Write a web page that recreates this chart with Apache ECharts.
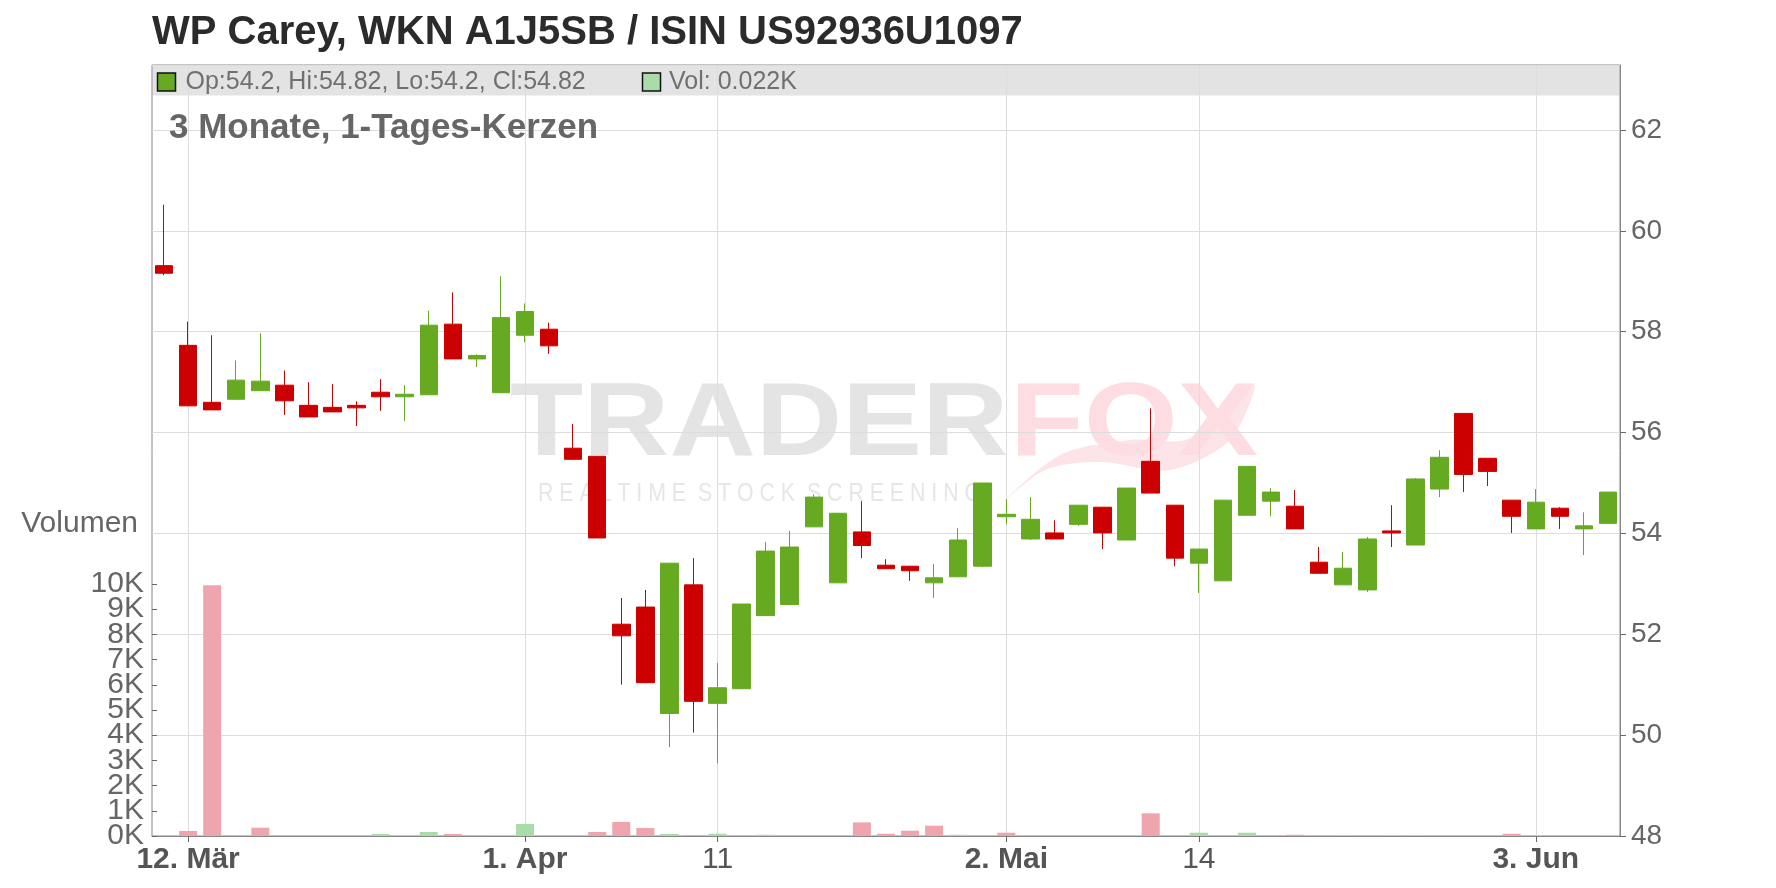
<!DOCTYPE html>
<html><head><meta charset="utf-8">
<script src="https://cdn.jsdelivr.net/npm/echarts@6/dist/echarts.min.js"></script>
<style>html,body{margin:0;padding:0;background:#fff}#c{width:1776px;height:888px}</style>
</head><body><div id="c"></div>
<script>
const FONT = "'Liberation Sans', Arial, sans-serif";

// daily OHLC (61 trading days, 11 Mar .. early Jun)
const openP  = [59.31,57.73,56.60,56.66,56.83,56.94,56.54,56.50,56.54,56.80,
                56.71,56.75,58.15,57.46,56.79,57.93,58.05,55.69,55.53,52.20,
                52.54,50.43,52.98,50.63,50.92,52.37,52.59,54.13,53.02,54.03,
                53.37,53.35,53.02,53.14,53.35,54.33,53.89,54.01,54.18,54.52,
                53.87,55.43,54.56,53.41,53.06,54.36,54.64,54.54,53.43,52.98,
                52.88,54.05,53.77,54.88,56.38,55.49,54.66,54.09,54.50,54.09,
                54.20];
const highP  = [60.52,58.20,57.93,57.43,57.97,57.23,57.00,56.96,56.62,57.06,
                56.94,58.42,58.78,57.55,59.10,58.56,58.18,56.17,55.53,52.72,
                52.88,53.41,53.51,51.43,52.60,53.83,54.05,54.78,54.40,54.64,
                53.49,53.35,53.39,54.11,55.00,54.68,54.72,54.26,54.56,54.52,
                54.90,56.48,54.56,53.69,54.66,55.33,54.90,54.86,53.73,53.63,
                53.93,54.56,55.10,55.65,56.38,55.49,54.66,54.88,54.52,54.42,
                54.82];
const lowP   = [59.12,56.53,56.45,56.66,56.83,56.35,56.31,56.41,56.13,56.43,
                56.23,56.75,57.46,57.30,56.79,57.79,57.56,55.47,53.91,51.00,
                51.04,49.76,50.05,49.44,50.92,52.37,52.59,54.13,53.02,53.51,
                53.30,53.06,52.72,53.14,53.33,54.18,53.87,53.89,54.15,53.69,
                53.87,54.80,53.35,52.82,53.06,54.36,54.34,54.09,53.21,52.98,
                52.84,53.73,53.77,54.72,54.82,54.94,54.01,54.09,54.09,53.57,
                54.20];
const closeP = [59.16,56.53,56.45,57.04,57.02,56.63,56.31,56.41,56.49,56.71,
                56.76,58.13,57.46,57.53,58.28,58.40,57.72,55.47,53.91,51.97,
                51.04,53.41,50.67,50.94,52.60,53.65,53.73,54.72,54.40,53.76,
                53.30,53.26,53.12,53.87,55.00,54.38,54.28,53.89,54.56,54.01,
                54.90,54.80,53.51,53.69,54.66,55.33,54.82,54.09,53.21,53.31,
                53.89,54.01,55.08,55.51,55.17,55.23,54.34,54.62,54.34,54.15,
                54.82];
const volume = [0,200,9950,0,330,0,0,0,0,80,
                40,160,80,0,40,480,0,0,160,560,
                320,80,40,90,0,50,0,0,0,540,
                90,210,410,50,0,130,0,0,0,0,
                0,900,0,130,0,130,0,50,0,40,
                0,40,40,0,0,0,90,0,0,0,
                22];

// x-axis tick labels (category index -> label)
const tickIndex  = [1, 15, 23, 35, 43, 57];
const tickLabels = ['12. Mär', '1. Apr', '11', '2. Mai', '14', '3. Jun'];
const tickBold   = [true, true, false, true, false, true];
// volume axis tick labels (0 .. 10K, step 1K)
const volTickLabels = ['0K', '1K', '2K', '3K', '4K', '5K', '6K', '7K', '8K', '9K', '10K'];
const volMax = 10000;

const categories = openP.map((_, i) => 'd' + i);
const candleData = openP.map((o, i) => [o, closeP[i], lowP[i], highP[i]]);
const volData = volume.map((v, i) => {
  const up = i === 0 ? closeP[0] >= openP[0] : closeP[i] >= closeP[i - 1];
  return { value: v, itemStyle: { color: up ? '#aadcaa' : '#eea5ae' } };
});
const isTick = (index) => tickIndex.indexOf(index) >= 0;

const chart = echarts.init(document.getElementById('c'), null, { renderer: 'canvas' });
chart.setOption({
  animation: false,
  backgroundColor: '#ffffff',
  textStyle: { fontFamily: FONT },
  title: {
    text: 'WP Carey, WKN A1J5SB / ISIN US92936U1097',
    left: 152, top: 13, padding: 0,
    textStyle: { fontSize: 40, fontWeight: 'bold', color: '#2b2b2b', fontFamily: FONT }
  },
  grid: [
    { left: 152, right: 156, top: 65, bottom: 52, show: true, borderColor: '#888', borderWidth: 1,
      backgroundColor: 'transparent', containLabel: false, outerBoundsMode: 'none' },
    { left: 152, right: 156, top: 584, bottom: 52, show: false, containLabel: false, outerBoundsMode: 'none' }
  ],
  xAxis: [
    { type: 'category', gridIndex: 0, data: categories, boundaryGap: true,
      axisLine: { show: true, lineStyle: { color: '#888', width: 1 } },
      axisTick: { show: true, alignWithLabel: true, interval: (i) => isTick(i), length: 6,
                  lineStyle: { color: '#666' } },
      axisLabel: { interval: (i) => isTick(i), margin: 9, hideOverlap: false,
        formatter: (value, index) => {
          const k = tickIndex.indexOf(index);
          if (k < 0) return '';
          return (tickBold[k] ? '{b|' : '{n|') + tickLabels[k] + '}';
        },
        rich: {
          b: { fontSize: 30, fontWeight: 'bold', color: '#555', fontFamily: FONT },
          n: { fontSize: 30, color: '#555', fontFamily: FONT }
        }
      },
      splitLine: { show: false }
    },
    { type: 'category', gridIndex: 1, data: categories, boundaryGap: true, show: false }
  ],
  yAxis: [
    { type: 'value', gridIndex: 0, position: 'right', min: 48, max: 63.289, interval: 2,
      axisLine: { show: true, lineStyle: { color: '#888' } },
      axisTick: { show: true, length: 6, lineStyle: { color: '#666' } },
      axisLabel: { fontSize: 28, color: '#666', margin: 11, showMinLabel: true, showMaxLabel: false,
                   hideOverlap: false, fontFamily: FONT },
      splitLine: { show: true, lineStyle: { color: '#dddddd', width: 1 } }
    },
    { type: 'value', gridIndex: 1, position: 'left', min: 0, max: volMax, show: false,
      splitLine: { show: false } },
    { type: 'category', gridIndex: 1, position: 'left', data: volTickLabels, boundaryGap: false,
      axisLine: { show: false },
      axisTick: { show: true, inside: true, length: 5, interval: 0, lineStyle: { color: '#666' } },
      axisLabel: { fontSize: 30, color: '#666', margin: 8, interval: 0, fontFamily: FONT,
                   hideOverlap: false },
      splitLine: { show: false },
      name: 'Volumen', nameLocation: 'end', nameGap: 60,
      nameTextStyle: { fontSize: 30, color: '#666', align: 'right', verticalAlign: 'middle',
                       padding: [0, 14, 0, 0], fontFamily: FONT }
    }
  ],
  series: [
    { type: 'candlestick', xAxisIndex: 0, yAxisIndex: 0, data: candleData, barWidth: 18,
      itemStyle: { color: '#66aa22', color0: '#cc0000', borderColor: '#66aa22', borderColor0: '#cc0000',
                   borderColorDoji: '#66aa22', borderWidth: 1 },
      markLine: { silent: true, z: 1, symbol: ['none', 'none'], label: { show: false },
                  lineStyle: { color: '#dddddd', type: 'solid', width: 1 },
                  emphasis: { disabled: true },
                  data: tickIndex.map((i) => ({ xAxis: i })) }
    },
    { type: 'bar', xAxisIndex: 1, yAxisIndex: 1, data: volData, barWidth: 18 }
  ],
  graphic: [
    // watermark
    { type: 'text', x: 510, y: 426, scaleX: 1.15, z: -10, silent: true,
      style: { text: 'TRADER', font: "bold 104px 'Liberation Sans', Arial, sans-serif", fill: '#e4e4e4', verticalAlign: 'middle' } },
    { type: 'polygon', z: -10, silent: true,
      shape: { points: [[1000, 505], [1060, 455], [1130, 440], [1185, 440], [1225, 415], [1255, 385],
                        [1230, 440], [1170, 470], [1100, 462], [1045, 470]], smooth: 0.3 },
      style: { fill: '#fde4e8' } },
    { type: 'text', x: 1010, y: 426, scaleX: 1.16, z: -10, silent: true,
      style: { text: 'FOX', font: "bold 104px 'Liberation Sans', Arial, sans-serif", fill: '#fddde2', verticalAlign: 'middle' } },
    { type: 'text', x: 538, y: 494, scaleX: 0.82, z: -10, silent: true,
      style: { text: 'R E A L T I M E  S T O C K  S C R E E N I N G', font: "26px 'Liberation Sans', Arial, sans-serif", fill: '#e6e6e6', verticalAlign: 'middle' } },
    // header bar
    { type: 'rect', z: -5, silent: true, shape: { x: 152.5, y: 65.5, width: 1467, height: 30 }, style: { fill: '#e3e3e3' } },
    { type: 'rect', z: 10, silent: true, shape: { x: 157.5, y: 73, width: 18, height: 18 }, style: { fill: '#66aa22', stroke: '#111', lineWidth: 1.5 } },
    { type: 'text', z: 10, silent: true, x: 185.5, y: 82,
      style: { text: 'Op:54.2, Hi:54.82, Lo:54.2, Cl:54.82', font: "25px 'Liberation Sans', Arial, sans-serif", fill: '#707070', verticalAlign: 'middle' } },
    { type: 'rect', z: 10, silent: true, shape: { x: 642.5, y: 73, width: 18, height: 18 }, style: { fill: '#aadcaa', stroke: '#111', lineWidth: 1.5 } },
    { type: 'text', z: 10, silent: true, x: 669, y: 82,
      style: { text: 'Vol: 0.022K', font: "25px 'Liberation Sans', Arial, sans-serif", fill: '#707070', verticalAlign: 'middle' } },
    // subtitle
    { type: 'text', z: 10, silent: true, x: 169, y: 128,
      style: { text: '3 Monate, 1-Tages-Kerzen', font: "bold 35px 'Liberation Sans', Arial, sans-serif", fill: '#666', verticalAlign: 'middle' } }
  ]
});
</script>
</body></html>
